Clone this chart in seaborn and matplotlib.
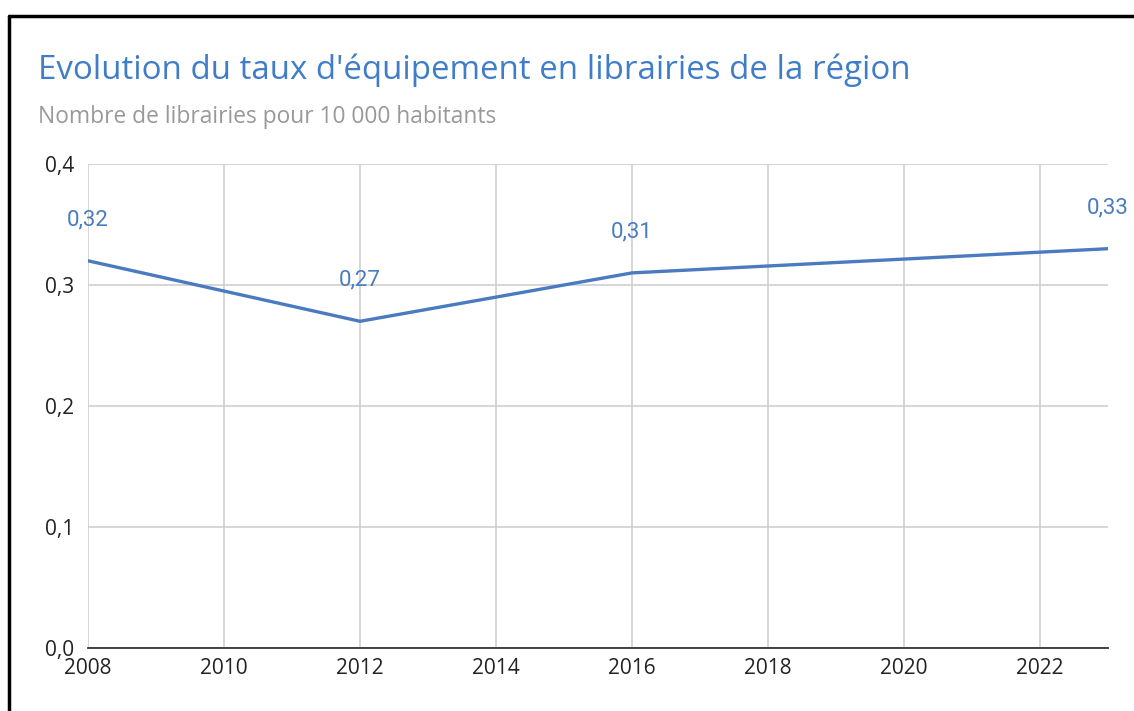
import pandas as pd
import matplotlib.pyplot as plt
import seaborn as sns
from matplotlib.lines import Line2D

# values
years = [2008, 2012, 2016, 2023]
taux = [0.32, 0.27, 0.31, 0.33]
x_ticks = [2008, 2010, 2012, 2014, 2016, 2018, 2020, 2022]
y_ticks = [0.0, 0.1, 0.2, 0.3, 0.4]

title = "Evolution du taux d'équipement en librairies de la région"
subtitle = "Nombre de librairies pour 10 000 habitants"

blue = "#4a7bc0"

sns.set_theme(style="white")
plt.rcParams['font.family'] = ['Open Sans', 'DejaVu Sans']

df = pd.DataFrame({'annee': years, 'taux': taux})

fig = plt.figure(figsize=(11.34, 7.11), dpi=100)
ax = fig.add_axes([88 / 1134, 1 - 648 / 711, 1020 / 1134, 484 / 711])

sns.lineplot(data=df, x='annee', y='taux', color=blue, linewidth=2.4, ax=ax)

for x, y in zip(years, taux):
    ax.annotate(f"{y:.2f}".replace('.', ','), (x, y), xytext=(0, 22),
                textcoords='offset points', ha='center', va='bottom',
                color=blue, fontsize=16, family=['Roboto', 'DejaVu Sans'])

ax.set_xlim(2008, 2023)
ax.set_ylim(0, 0.4)
ax.set_xticks(x_ticks)
ax.set_yticks(y_ticks)
ax.set_yticklabels([f"{v:.1f}".replace('.', ',') for v in y_ticks])
ax.grid(True, color='#cccccc', linewidth=1.1)
ax.set_axisbelow(True)
for side in ['top', 'right', 'left']:
    ax.spines[side].set_visible(False)
ax.spines['bottom'].set_color('#333333')
ax.spines['bottom'].set_linewidth(1.3)
ax.tick_params(axis='both', length=0, labelsize=15, colors='#222222')
ax.tick_params(axis='x', pad=7)
ax.tick_params(axis='y', pad=10)
ax.set_xlabel('')
ax.set_ylabel('')

fig.text(38 / 1134, 1 - 70 / 711, title, color='#3f7dc8', fontsize=23.8, va='center', ha='left')
fig.text(38 / 1134, 1 - 117 / 711, subtitle, color='#999999', fontsize=16.4, va='center', ha='left')

# black frame on left and top edges
fig.add_artist(Line2D([9 / 1134, 9 / 1134], [0, 1 - 16 / 711], transform=fig.transFigure, color='black', linewidth=2.5))
fig.add_artist(Line2D([9 / 1134, 1], [1 - 16 / 711, 1 - 16 / 711], transform=fig.transFigure, color='black', linewidth=2.5))

fig.savefig('out.png', dpi=100, facecolor='white')
